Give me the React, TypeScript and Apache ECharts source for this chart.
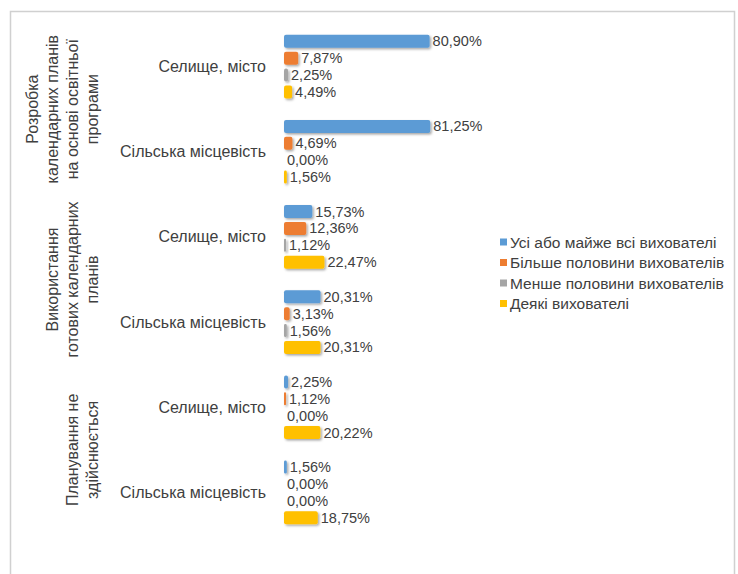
import React, { useEffect, useRef } from "react";
import * as echarts from "echarts";

const groups = [
  "Розробка\nкалендарних планів\nна основі освітньої\nпрограми",
  "Використання\nготових календарних\nпланів",
  "Планування не\nздійснюється",
];
const categories = [
  "Селище, місто",
  "Сільська місцевість",
  "Селище, місто",
  "Сільська місцевість",
  "Селище, місто",
  "Сільська місцевість",
];
const seriesNames = [
  "Усі або майже всі вихователі",
  "Більше половини вихователів",
  "Менше половини вихователів",
  "Деякі вихователі",
];
const allOrAlmostAll = [80.9, 81.25, 15.73, 20.31, 2.25, 1.56];
const moreThanHalf = [7.87, 4.69, 12.36, 3.13, 1.12, 0.0];
const lessThanHalf = [2.25, 0.0, 1.12, 1.56, 0.0, 0.0];
const some = [4.49, 1.56, 22.47, 20.31, 20.22, 18.75];
const seriesValues = [allOrAlmostAll, moreThanHalf, lessThanHalf, some];
const colors = ["#5B9BD5", "#ED7D31", "#A5A5A5", "#FFC000"];

const FONT = "Liberation Sans";
const TEXT = "#404040";

export default function App() {
  const ref = useRef<HTMLDivElement>(null);
  useEffect(() => {
    document.body.style.margin = "0";
    const chart = echarts.init(ref.current!, null, { renderer: "svg" });
    chart.setOption({
      animation: false,
      backgroundColor: "#ffffff",
      textStyle: { fontFamily: FONT },
      graphic: [
        {
          type: "rect",
          shape: { x: 10.5, y: 11.5, width: 724, height: 600 },
          style: { fill: "none", stroke: "#d0d0d0", lineWidth: 1.5 },
          silent: true,
        },
      ],
      legend: {
        orient: "vertical",
        left: 495,
        top: 229,
        itemWidth: 7,
        itemHeight: 7,
        itemGap: 4.5,
        icon: "rect",
        data: seriesNames,
        textStyle: { fontFamily: FONT, fontSize: 15.5, color: TEXT, padding: [0, 0, 0, -2] },
      },
      grid: { left: 284, top: 24, width: 180, height: 511 },
      xAxis: { type: "value", min: 0, max: 100, show: false },
      yAxis: [
        {
          type: "category",
          data: categories,
          inverse: true,
          axisLine: { show: false },
          axisTick: { show: false },
          axisLabel: {
            interval: 0,
            margin: 18,
            padding: [10, 0, 0, 0],
            fontFamily: FONT,
            fontSize: 16,
            color: TEXT,
          },
        },
        {
          type: "category",
          data: groups,
          inverse: true,
          position: "left",
          offset: 182,
          axisLine: { show: false },
          axisTick: { show: false },
          axisLabel: {
            interval: 0,
            margin: 0,
            rotate: 90,
            align: "center",
            verticalAlign: "bottom",
            lineHeight: 20,
            fontFamily: FONT,
            fontSize: 16,
            color: TEXT,
          },
        },
      ],
      series: seriesNames.map((name, i) => ({
        name,
        type: "bar",
        yAxisIndex: 0,
        data: seriesValues[i],
        barWidth: 13,
        barGap: "30%",
        itemStyle: {
          color: colors[i],
          borderRadius: 2,
          shadowColor: "rgba(0,0,0,0.35)",
          shadowBlur: 2,
          shadowOffsetX: 1.5,
          shadowOffsetY: 1.5,
        },
        label: {
          show: true,
          position: "right",
          distance: 3,
          fontFamily: FONT,
          fontSize: 14.5,
          color: TEXT,
          formatter: (p: any) => p.value.toFixed(2).replace(".", ",") + "%",
        },
      })),
    });
    return () => chart.dispose();
  }, []);
  return <div ref={ref} style={{ width: 738, height: 574 }} />;
}
